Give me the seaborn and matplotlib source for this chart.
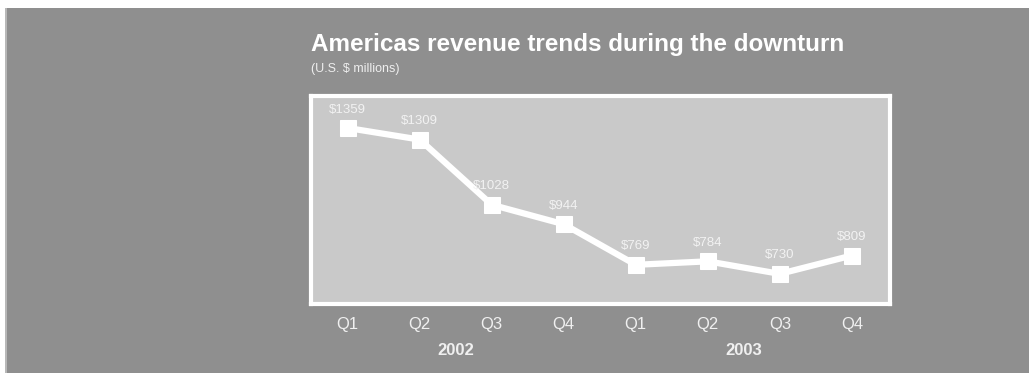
import matplotlib
matplotlib.use("Agg")
import matplotlib.pyplot as plt
import seaborn as sns
import pandas as pd
from matplotlib.patches import Rectangle

quarters = ["Q1", "Q2", "Q3", "Q4", "Q1", "Q2", "Q3", "Q4"]
years = ["2002", "2003"]
revenue = [1359, 1309, 1028, 944, 769, 784, 730, 809]
value_labels = ["$1359", "$1309", "$1028", "$944", "$769", "$784", "$730", "$809"]

BG = "#8f8f8f"
PANEL = "#c9c9c9"
WHITE = "#ffffff"

sns.set_theme(style="white")
plt.rcParams["font.family"] = ["Liberation Sans", "DejaVu Sans"]

fig = plt.figure(figsize=(10.29, 3.73), dpi=100)
fig.patch.set_facecolor("white")
fig.add_artist(Rectangle((6 / 1029, 0), 1 - 6 / 1029, 1 - 8 / 373,
                         transform=fig.transFigure, facecolor=BG,
                         edgecolor="none", zorder=0))
fig.add_artist(Rectangle((5 / 1029, 0), 1.5 / 1029, 1 - 8 / 373,
                         transform=fig.transFigure, facecolor="#b8b8b8",
                         edgecolor="none", zorder=0))

ax = fig.add_axes([311 / 1029, 1 - 304 / 373, 579 / 1029, 208 / 373])
ax.set_facecolor(PANEL)

df = pd.DataFrame({"pos": range(len(revenue)), "revenue": revenue})
sns.lineplot(data=df, x="pos", y="revenue", ax=ax, color=WHITE, linewidth=4.5,
             marker="s", markersize=11, markeredgecolor=WHITE,
             markerfacecolor=WHITE)

for i, (v, lab) in enumerate(zip(revenue, value_labels)):
    ax.annotate(lab, (i, v), xytext=(0, 9), textcoords="offset points",
                ha="center", va="bottom", color="#f2f2f2", fontsize=9.5)

ax.set_xlim(-0.51, 7.53)
ax.set_ylim(600, 1497)
ax.set_xticks(range(len(quarters)))
ax.set_xticklabels(quarters, color="#f0f0f0", fontsize=12)
ax.tick_params(axis="x", length=0, pad=9)
ax.set_yticks([])
ax.set_xlabel("")
ax.set_ylabel("")
for s in ax.spines.values():
    s.set_color(WHITE)
    s.set_linewidth(3)

# year labels centred beneath each group of four quarters
for k, yr in enumerate(years):
    ax.text(1.5 + 4 * k, -0.222, yr, transform=ax.get_xaxis_transform(),
            ha="center", va="center", color="#f0f0f0", fontsize=12,
            fontweight="bold")

fig.text(311 / 1029, 1 - 45 / 373, "Americas revenue trends during the downturn",
         ha="left", va="center", color=WHITE, fontsize=17.5, fontweight="bold")
fig.text(311 / 1029, 1 - 69 / 373, "(U.S. $ millions)",
         ha="left", va="center", color="#eeeeee", fontsize=9)

fig.savefig("out.png", dpi=100)
